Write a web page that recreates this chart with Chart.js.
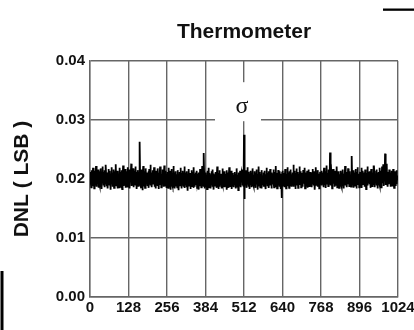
<!DOCTYPE html>
<html>
<head>
<meta charset="utf-8">
<script src="https://cdn.jsdelivr.net/npm/chart.js@4.4.1/dist/chart.umd.min.js"></script>
<style>
  html, body { margin: 0; padding: 0; background: #fff; }
  #wrap { width: 414px; height: 330px; }
</style>
</head>
<body>
<div id="wrap"><canvas id="c" width="414" height="330"></canvas></div>
<script>
// Chart text
const chartTitle = 'Thermometer';
const yAxisTitle = 'DNL ( LSB )';
const sigmaText = 'σ';

// Axis ticks
const xTicks = [0, 128, 256, 384, 512, 640, 768, 896, 1024];
const yTicks = [0, 0.01, 0.02, 0.03, 0.04];
const yTickLabels = ['0.00', '0.01', '0.02', '0.03', '0.04'];

// DNL per output code 0..1023, in units of 1e-4 LSB
const dnlE4 = [
  203,191,212,197,186,208,215,194,200,188,219,205,193,210,184,201,214,196,189,207,222,199,187,204,211,192,198,216,185,206,195,209,
  190,213,202,187,218,199,205,183,210,196,221,194,204,189,212,200,186,215,197,208,191,224,203,188,206,195,211,184,199,217,193,207,
  201,189,214,196,205,182,209,198,220,192,203,187,211,200,194,216,185,207,197,213,190,202,225,195,188,210,199,184,206,214,193,200,
  208,186,197,219,191,204,212,189,201,195,215,183,209,198,223,192,206,188,211,202,196,217,185,203,210,194,199,213,187,205,220,196,
  202,191,216,198,184,207,213,195,200,226,188,205,194,211,190,218,197,203,186,209,214,192,201,221,189,206,196,212,183,204,199,215,
  193,208,187,202,219,197,263,190,205,212,186,200,216,194,209,181,203,222,196,207,189,213,199,185,210,201,218,192,204,195,211,188,
  206,194,213,185,200,217,191,208,197,224,189,203,211,195,186,209,200,215,192,205,198,220,187,202,210,193,207,184,214,199,196,212,
  188,204,218,195,201,183,210,197,206,221,190,199,213,186,208,194,202,216,191,205,187,211,200,223,196,203,189,214,198,207,185,209,
  197,212,190,203,185,208,219,194,200,187,214,199,205,182,210,196,217,191,204,188,209,201,222,193,198,184,211,206,195,213,189,202,
  194,208,186,201,215,190,198,181,206,197,212,188,203,219,192,199,184,210,195,205,189,214,200,187,207,193,221,185,202,196,211,190,
  200,186,213,195,204,180,209,192,198,217,189,203,194,210,183,206,199,215,191,201,188,212,196,205,185,220,193,200,208,187,197,211,
  190,204,196,214,185,201,209,193,198,182,211,195,206,188,217,199,192,203,186,210,197,222,189,205,194,200,187,244,196,208,184,202,
  195,211,188,200,207,183,214,197,191,205,199,219,186,203,210,192,198,184,208,196,213,190,201,187,216,194,205,182,209,199,193,206,
  189,202,212,195,185,208,198,221,191,204,196,183,210,200,187,215,194,206,190,199,209,184,203,197,218,192,200,188,207,195,213,186,
  201,193,209,187,204,198,215,182,196,206,190,211,199,185,203,220,194,200,188,208,197,214,183,205,192,201,210,189,198,207,186,203,
  196,212,190,204,184,200,209,193,218,187,202,195,207,181,199,211,192,205,188,214,197,186,203,209,194,200,216,189,206,193,201,187,
  275,166,204,196,210,189,201,215,193,185,207,198,220,191,203,187,212,200,195,183,208,197,214,190,202,205,186,211,196,218,192,199,
  207,188,201,213,194,199,185,210,203,191,216,197,205,182,209,195,200,221,189,204,198,212,186,202,193,208,184,215,199,206,190,203,
  196,211,187,205,199,214,191,202,183,208,197,219,193,201,188,210,204,195,213,185,200,207,192,217,198,189,206,202,184,211,196,209,
  191,203,216,195,186,208,200,212,193,197,222,188,205,199,184,210,202,194,215,190,206,198,187,213,201,195,209,183,204,197,168,212,
  200,214,189,206,195,210,186,203,198,217,192,205,184,209,201,196,220,188,204,211,193,199,185,213,207,190,202,216,194,198,187,208,
  203,192,211,198,224,187,205,200,214,191,207,183,210,196,202,218,189,204,199,212,185,206,195,209,201,221,190,203,197,213,186,208,
  194,210,199,205,187,215,201,192,208,196,219,184,206,200,211,189,203,197,214,185,209,202,193,216,198,188,207,200,212,191,204,196,
  211,186,203,198,217,192,206,189,201,213,195,208,182,205,199,220,190,204,196,210,187,202,215,193,200,209,184,206,197,212,191,203,
  198,214,189,205,201,211,193,207,186,203,219,196,209,190,200,213,185,206,197,223,192,204,199,210,188,202,216,195,207,191,245,200,
  189,206,212,195,201,184,210,199,217,192,205,198,208,187,203,214,194,200,190,211,196,221,186,204,209,197,202,213,185,207,199,193,
  208,196,214,190,203,187,211,200,198,216,193,205,184,209,201,197,222,189,206,194,212,199,186,204,210,195,218,191,202,207,188,200,
  213,194,205,199,187,210,202,239,191,206,197,215,185,203,200,211,193,208,189,217,198,204,184,212,196,201,220,190,207,195,209,186,
  203,197,212,188,206,200,219,193,185,209,201,214,196,204,190,211,187,207,198,216,192,202,183,210,205,195,221,189,203,199,212,194,
  206,191,213,199,185,208,202,217,194,200,188,211,205,196,223,190,203,209,186,214,198,201,193,207,216,189,204,197,210,184,206,200,
  212,195,203,219,190,207,199,214,186,205,201,221,193,209,197,225,188,204,211,200,196,243,202,215,190,207,198,226,193,209,187,212,
  199,208,191,216,203,195,211,187,206,200,214,193,204,189,210,198,217,192,205,185,209,201,196,213,188,207,199,215,191,203,197,206
];

// Where the sigma marker sits (code, LSB)
const sigmaAt = [512, 0.032];

const points = dnlE4.map((v, i) => ({ x: i, y: v / 10000 }));

const FONT = "'Liberation Sans', Arial, Helvetica, sans-serif";
const GRID = '#666';

const decor = {
  id: 'decor',
  afterDatasetsDraw(chart) {
    const { ctx, scales } = chart;
    const px = scales.x.getPixelForValue(sigmaAt[0]);
    const py = scales.y.getPixelForValue(sigmaAt[1]);
    ctx.save();
    // white label patch breaking the grid
    ctx.fillStyle = '#fff';
    ctx.fillRect(px - 29, py - 26, 46, 39);
    ctx.fillStyle = '#111';
    ctx.font = "24px 'Liberation Serif', 'Times New Roman', serif";
    ctx.textAlign = 'center';
    ctx.textBaseline = 'middle';
    ctx.fillText(sigmaText, px - 2, py - 1);
    ctx.restore();
  },
  afterDraw(chart) {
    const { ctx, chartArea } = chart;
    ctx.save();
    ctx.fillStyle = '#111';
    ctx.font = 'bold 21px ' + FONT;
    ctx.textAlign = 'center';
    ctx.textBaseline = 'middle';
    ctx.fillText(chartTitle, (chartArea.left + chartArea.right) / 2, 32);
    // edge marks
    ctx.fillStyle = '#000';
    ctx.fillRect(383, 8.5, 31, 2.3);
    ctx.fillRect(0.5, 271, 3, 59);
    ctx.restore();
  }
};

new Chart(document.getElementById('c'), {
  type: 'line',
  data: {
    datasets: [{
      data: points,
      borderColor: '#000',
      borderWidth: 1.8,
      pointRadius: 0,
      tension: 0,
      fill: false
    }]
  },
  options: {
    responsive: false,
    animation: false,
    devicePixelRatio: 1,
    layout: { padding: { left: 0, right: 16, top: 61, bottom: 0 } },
    plugins: { legend: { display: false }, tooltip: { enabled: false }, title: { display: false } },
    scales: {
      x: {
        type: 'linear',
        min: 0,
        max: 1024,
        afterBuildTicks: s => { s.ticks = xTicks.map(v => ({ value: v })); },
        afterFit: s => { s.height = 33; s.paddingLeft = 0; s.paddingRight = 0; },
        ticks: {
          autoSkip: false,
          maxRotation: 0,
          padding: 2,
          color: '#111',
          font: { family: FONT, size: 15, weight: 'bold' },
          callback: v => String(v)
        },
        grid: { color: GRID, lineWidth: 1.4, drawTicks: false },
        border: { color: GRID, width: 1.4 }
      },
      y: {
        min: 0,
        max: 0.04,
        afterBuildTicks: s => { s.ticks = yTicks.map(v => ({ value: v })); },
        afterFit: s => { s.width = 90; s.paddingTop = 0; s.paddingBottom = 0; },
        ticks: {
          padding: 5,
          color: '#111',
          font: { family: FONT, size: 15, weight: 'bold' },
          callback: v => yTickLabels[yTicks.indexOf(v)] ?? v.toFixed(2)
        },
        title: {
          display: true,
          text: yAxisTitle,
          color: '#111',
          font: { family: FONT, size: 21, weight: 'bold' },
          padding: { top: 10, bottom: 0 }
        },
        grid: { color: GRID, lineWidth: 1.4, drawTicks: false },
        border: { color: GRID, width: 1.4 }
      }
    }
  },
  plugins: [decor]
});
</script>
</body>
</html>
